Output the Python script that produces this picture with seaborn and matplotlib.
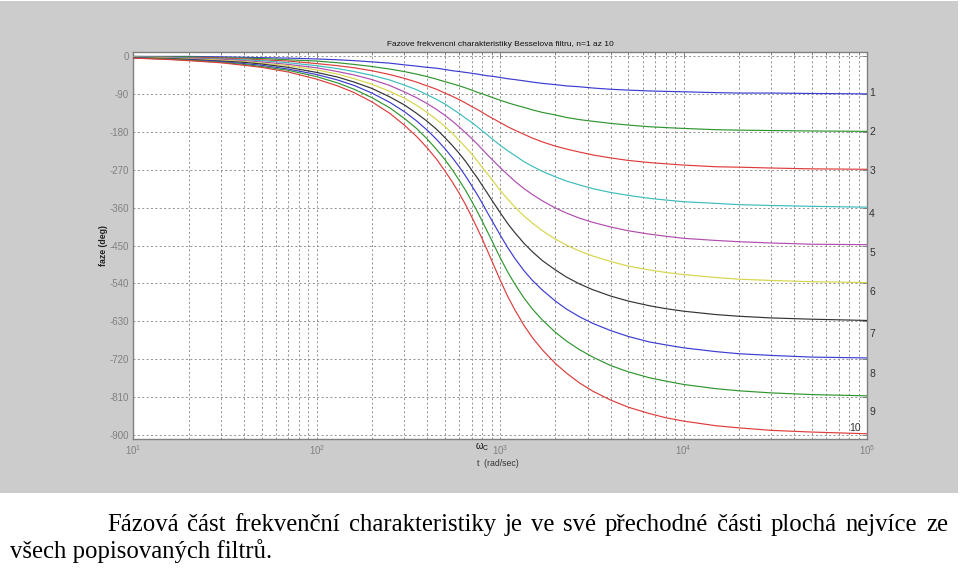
import numpy as np
import pandas as pd
import matplotlib
matplotlib.use("Agg")
import matplotlib.pyplot as plt
import seaborn as sns
from matplotlib.patches import Rectangle
from matplotlib.ticker import LogLocator, FixedLocator, NullFormatter, LogFormatterSciNotation

# ---- data ----
freq = [10, 15, 20, 30, 40, 50, 70, 100, 130, 160, 200, 250, 300, 350, 400,
        450, 500, 550, 600, 650, 700, 750, 800, 850, 900, 1000, 1100, 1200, 1350, 1500,
        1700, 2000, 2300, 2700, 3200, 4000, 5000, 6500, 8000, 10000, 15000, 20000, 30000, 50000, 100000]

phase_1 = [-1, -1, -1, -2, -3, -4, -5, -7, -9, -11, -14, -17, -21, -24, -27,
           -29, -32, -35, -37, -39, -41, -43, -45, -47, -48, -51, -54, -56, -59, -62,
           -65, -68, -71, -73, -76, -79, -81, -83, -84, -85, -87, -88, -88, -89, -90]
phase_2 = [-1, -2, -2, -4, -5, -6, -9, -12, -16, -20, -25, -31, -37, -43, -49,
           -55, -61, -66, -71, -76, -81, -86, -90, -94, -98, -105, -111, -116, -122, -128,
           -134, -140, -146, -151, -155, -160, -164, -168, -170, -172, -175, -176, -177, -178, -179]
phase_3 = [-2, -3, -4, -5, -7, -9, -12, -18, -23, -28, -35, -44, -53, -62, -71,
           -79, -88, -96, -104, -112, -120, -127, -134, -141, -147, -158, -168, -176, -186, -195,
           -204, -214, -221, -228, -235, -242, -248, -253, -256, -259, -263, -264, -266, -268, -269]
phase_4 = [-2, -3, -5, -7, -9, -11, -16, -23, -30, -37, -46, -57, -69, -80, -92,
           -103, -114, -126, -137, -148, -158, -168, -178, -187, -196, -212, -225, -236, -251, -262,
           -274, -287, -297, -306, -315, -324, -331, -338, -342, -346, -350, -353, -355, -357, -359]
phase_5 = [-3, -4, -6, -8, -11, -14, -20, -28, -37, -45, -56, -70, -85, -99, -113,
           -127, -141, -155, -169, -183, -196, -209, -222, -234, -245, -265, -282, -297, -315, -329,
           -344, -361, -373, -385, -395, -406, -415, -423, -428, -433, -438, -441, -444, -447, -448]
phase_6 = [-3, -5, -7, -10, -13, -17, -23, -33, -43, -54, -67, -84, -100, -117, -134,
           -151, -167, -184, -201, -217, -233, -249, -265, -279, -293, -319, -340, -358, -380, -397,
           -415, -435, -449, -463, -475, -488, -499, -508, -514, -519, -526, -530, -533, -536, -538]
phase_7 = [-4, -6, -8, -12, -15, -19, -27, -39, -50, -62, -77, -97, -116, -136, -155,
           -174, -194, -213, -232, -251, -271, -289, -308, -325, -342, -372, -398, -419, -445, -465,
           -486, -508, -525, -541, -555, -570, -582, -593, -600, -606, -614, -618, -622, -625, -628]
phase_8 = [-4, -7, -9, -13, -18, -22, -31, -44, -57, -70, -88, -110, -132, -154, -176,
           -198, -220, -242, -264, -286, -308, -329, -350, -371, -390, -425, -455, -480, -510, -533,
           -556, -582, -601, -619, -635, -652, -666, -679, -686, -693, -702, -707, -711, -715, -717]
phase_9 = [-5, -7, -10, -15, -20, -25, -34, -49, -64, -79, -99, -123, -148, -172, -197,
           -222, -246, -271, -296, -320, -345, -369, -393, -416, -438, -479, -513, -541, -575, -601,
           -627, -656, -677, -697, -715, -735, -750, -764, -772, -780, -790, -795, -800, -804, -807]
phase_10 = [-5, -8, -11, -16, -22, -27, -38, -55, -71, -87, -109, -136, -164, -191, -218,
            -245, -273, -300, -327, -354, -382, -409, -435, -461, -486, -532, -571, -602, -640, -669,
            -698, -730, -753, -776, -796, -817, -834, -849, -859, -867, -878, -883, -889, -893, -897]

orders = ["1", "2", "3", "4", "5", "6", "7", "8", "9", "10"]
yticks = [0, -90, -180, -270, -360, -450, -540, -630, -720, -810, -900]
wc_freq = 800
label_y = [-87, -180, -273, -376, -467, -560, -660, -754, -845, -884]

title = "Fazove frekvencni charakteristiky Besselova filtru, n=1 az 10"
xlabel = "t  (rad/sec)"
ylabel = "faze (deg)"
caption_1 = "Fázová část frekvenční charakteristiky je ve své přechodné části plochá nejvíce ze"
caption_2 = "všech popisovaných filtrů."

# ---- style ----
sns.set_style("white")
plt.rcParams['font.family'] = ['Liberation Sans', 'DejaVu Sans']
plt.rcParams['mathtext.fontset'] = 'custom'
plt.rcParams['mathtext.rm'] = 'Liberation Sans'
plt.rcParams['mathtext.it'] = 'Liberation Sans:italic'
plt.rcParams['mathtext.default'] = 'regular'
plt.rcParams['axes.unicode_minus'] = False

colors = ['#3b3bd0', '#2f952f', '#dd3c3c', '#3cbcbc', '#b04cb0',
          '#d6d64a', '#333333', '#3b3bd0', '#2f952f', '#dd3c3c']

fig = plt.figure(figsize=(9.6, 5.68), dpi=100, facecolor='white')
fig.add_artist(Rectangle((0.0, 75 / 568), 958 / 960, 1 - 75 / 568 - 1 / 568,
                         transform=fig.transFigure, facecolor='#cccccc',
                         edgecolor='none', zorder=-5))

ax = fig.add_axes([133.3 / 960, 1 - 439 / 568, 733.7 / 960, 387 / 568])
ax.set_facecolor('white')
ax.set_xscale('log')

all_phases = [phase_1, phase_2, phase_3, phase_4, phase_5,
              phase_6, phase_7, phase_8, phase_9, phase_10]
df = pd.DataFrame({
    'freq': freq * len(orders),
    'phase': [v for ph in all_phases for v in ph],
    'order': np.repeat(orders, len(freq)),
})
sns.lineplot(data=df, x='freq', y='phase', hue='order', hue_order=orders,
             palette=colors, estimator=None, sort=False, legend=False,
             linewidth=0.85, ax=ax, zorder=3)

ax.set_xlim(10, 1e5)
ax.set_ylim(-909.5, 9.5)
ax.yaxis.set_major_locator(FixedLocator(yticks))
ax.xaxis.set_major_locator(LogLocator(base=10, numticks=10))
ax.xaxis.set_minor_locator(LogLocator(base=10, subs=np.arange(2, 10), numticks=20))
ax.xaxis.set_major_formatter(LogFormatterSciNotation())
ax.xaxis.set_minor_formatter(NullFormatter())

gridkw = dict(color='#909090', linestyle=(0, (2, 2.5)), linewidth=0.7)
ax.grid(True, which='major', axis='both', **gridkw)
ax.grid(True, which='minor', axis='x', **gridkw)
ax.set_axisbelow(True)

for s in ax.spines.values():
    s.set_color('#808080')
    s.set_linewidth(1.0)
    s.set_visible(True)

ax.tick_params(which='both', direction='in', top=True, right=True,
               colors='#808080', labelcolor='#808080', labelsize=7, pad=3)
ax.tick_params(which='major', length=3.5, width=0.7)
ax.tick_params(which='minor', length=2.2, width=0.6)

ax.set_xlabel(xlabel, fontsize=6.3, color='#333333')
ax.set_ylabel(ylabel, fontsize=6.3, color='#222222', fontweight='bold')
ax.xaxis.set_label_coords(0.497, -0.052)
ax.yaxis.set_label_coords(-0.0345, 0.5)
ax.set_title(title, fontsize=6, color='#111111', pad=4)

# omega_c marker label
ax.text(wc_freq, -0.004, r'$\omega_C$', transform=ax.get_xaxis_transform(),
        ha='center', va='top', fontsize=7, color='#111111', clip_on=False)

# order labels at the right
for i, (t, y) in enumerate(zip(orders, label_y)):
    if t == "10":
        ax.text(86000, y, t, ha='center', va='center', fontsize=7.5,
                color='#333333', clip_on=False, zorder=5)
    else:
        ax.text(1.028e5, y, t, ha='left', va='center', fontsize=7.5,
                color='#333333', clip_on=False, zorder=5)

# caption: first line justified between x=107 and x=948 px
serif = ['Liberation Serif', 'DejaVu Serif']
cap_size = 17.8
renderer = fig.canvas.get_renderer()
words = caption_1.split(" ")
x_left, x_right = 107.0, 948.0
base1 = (568 - 531) / 568
word_artists = []
widths = []
for w in words:
    t = fig.text(0, base1, w, family=serif, fontsize=cap_size, ha='left',
                 va='baseline', color='black')
    word_artists.append(t)
    widths.append(t.get_window_extent(renderer).width)
gap = (x_right - x_left - sum(widths)) / (len(words) - 1)
xpos = x_left
for t, wdt in zip(word_artists, widths):
    t.set_x(xpos / 960)
    xpos += wdt + gap
fig.text(10 / 960, (568 - 558) / 568, caption_2, family=serif, fontsize=cap_size,
         ha='left', va='baseline', color='black')

fig.savefig("out.png", dpi=100, facecolor='white')
